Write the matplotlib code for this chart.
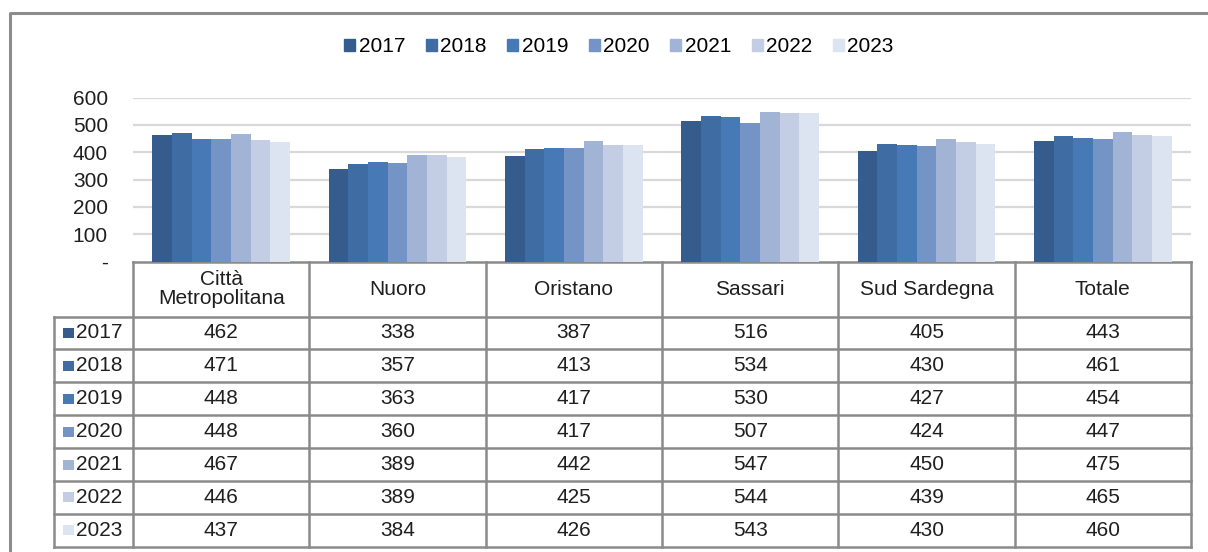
import matplotlib
matplotlib.use("Agg")
import matplotlib.pyplot as plt
from matplotlib.patches import Rectangle

plt.rcParams['font.family'] = ['Liberation Sans', 'DejaVu Sans']

categories = ["Città\nMetropolitana", "Nuoro", "Oristano", "Sassari", "Sud Sardegna", "Totale"]
years = ["2017", "2018", "2019", "2020", "2021", "2022", "2023"]
values = {
    "2017": [462, 338, 387, 516, 405, 443],
    "2018": [471, 357, 413, 534, 430, 461],
    "2019": [448, 363, 417, 530, 427, 454],
    "2020": [448, 360, 417, 507, 424, 447],
    "2021": [467, 389, 442, 547, 450, 475],
    "2022": [446, 389, 425, 544, 439, 465],
    "2023": [437, 384, 426, 543, 430, 460],
}
yticks = [0, 100, 200, 300, 400, 500, 600]
ytick_labels = ["-", "100", "200", "300", "400", "500", "600"]
colors = ["#365C8D", "#3E6CA3", "#4879B7", "#7594C6", "#A2B4D6", "#C3CDE3", "#DCE4F1"]

FS = 15
txt = '#1F1F1F'

W, H = 1208, 552
fig = plt.figure(figsize=(W / 100, H / 100), dpi=100)

# overlay axes in pixel coordinates
ov = fig.add_axes([0, 0, 1, 1])
ov.set_xlim(0, W)
ov.set_ylim(H, 0)
ov.axis('off')

# plot area
x0, x1 = 133, 1191
y_top, y_bot = 97.7, 261.5
ax = fig.add_axes([x0 / W, (H - y_bot) / H, (x1 - x0) / W, (y_bot - y_top) / H])
ax.set_xlim(-0.5, len(categories) - 0.5)
ax.set_ylim(0, 600)
ax.set_facecolor('none')
for s in ax.spines.values():
    s.set_visible(False)
ax.set_yticks(yticks)
ax.set_yticklabels(ytick_labels, fontsize=FS, color=txt)
ax.tick_params(axis='y', length=0, pad=18)
ax.set_xticks([])
for t in yticks[1:]:
    ax.axhline(t, color='#D9D9D9', lw=1.6, zorder=0)

n = len(years)
group_w = 0.78
bw = group_w / n
for i, y in enumerate(years):
    xs = [k - group_w / 2 + bw * (i + 0.5) for k in range(len(categories))]
    ax.bar(xs, values[y], width=bw, color=colors[i], zorder=2, linewidth=0)

# legend
handles = [Rectangle((0, 0), 1, 1, color=c) for c in colors]
fig.legend(handles, years, loc='center', bbox_to_anchor=(619 / W, 1 - 47 / H), ncol=7,
           frameon=False, fontsize=FS, handlelength=0.53, handleheight=0.5,
           handletextpad=0.15, columnspacing=1.0, borderpad=0, borderaxespad=0)

# outer frame
lc = '#8C8C8C'
ov.plot([10, W], [13, 13], color=lc, lw=2.2, solid_capstyle='butt')
ov.plot([10, 10], [12, H], color=lc, lw=2.2, solid_capstyle='butt')

# table
tc = '#8A8A8A'
col_w = (x1 - x0) / len(categories)
hdr_top, hdr_bot = 262, 316.5
row_h = 32.9
n_rows = len(years)
tab_bot = hdr_bot + row_h * n_rows
lab_x0 = 54
tlw = 1.8
ov.plot([x0, x1], [hdr_top, hdr_top], color=tc, lw=tlw)
for r in range(n_rows + 1):
    yy = hdr_bot + r * row_h
    ov.plot([lab_x0, x1], [yy, yy], color=tc, lw=tlw)
for c in range(len(categories) + 1):
    xx = x0 + c * col_w
    ov.plot([xx, xx], [hdr_top, tab_bot], color=tc, lw=tlw)
ov.plot([lab_x0, lab_x0], [hdr_bot, tab_bot], color=tc, lw=tlw)

for c, cat in enumerate(categories):
    ov.text(x0 + (c + 0.5) * col_w, (hdr_top + hdr_bot) / 2, cat, ha='center', va='center',
            fontsize=FS, color=txt, linespacing=1.0)
for r, y in enumerate(years):
    yc = hdr_bot + (r + 0.5) * row_h
    ov.add_patch(Rectangle((63, yc - 5), 11, 10, color=colors[r], lw=0))
    ov.text(76, yc, y, ha='left', va='center', fontsize=FS, color=txt)
    for c in range(len(categories)):
        ov.text(x0 + (c + 0.5) * col_w, yc, str(values[y][c]), ha='center', va='center',
                fontsize=FS, color=txt)

fig.savefig('out.png', dpi=100)
